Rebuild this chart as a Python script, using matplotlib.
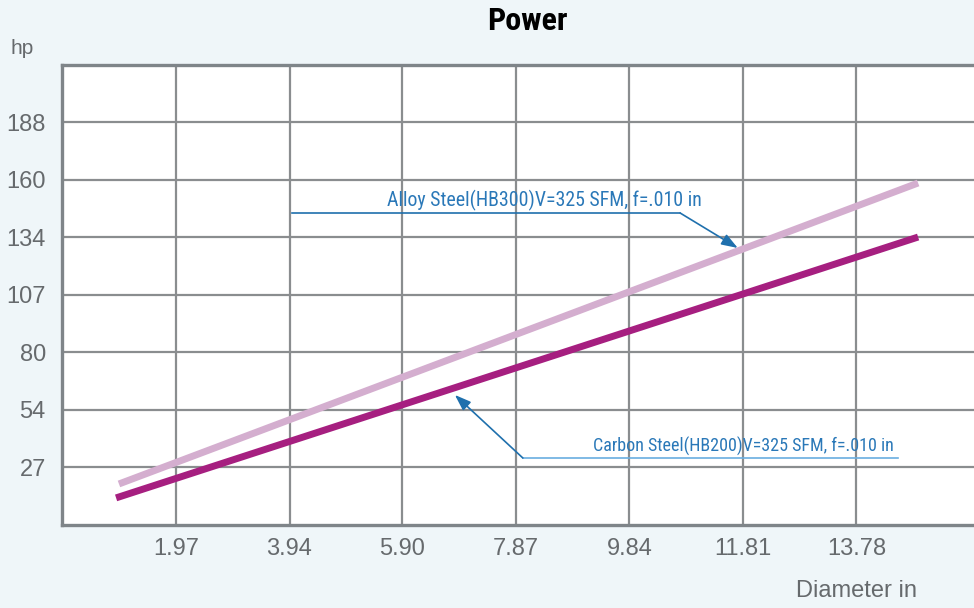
import matplotlib
matplotlib.use("Agg")
import matplotlib.pyplot as plt
from matplotlib import font_manager as fm

# ---- data ----
x_ticks = [1.97, 3.94, 5.90, 7.87, 9.84, 11.81, 13.78]
x_tick_labels = ["1.97", "3.94", "5.90", "7.87", "9.84", "11.81", "13.78"]
y_ticks = [26.8, 53.6, 80.4, 107.2, 134.0, 160.8, 187.6]
y_tick_labels = ["27", "54", "80", "107", "134", "160", "188"]

alloy_x = [0.98, 14.85]
alloy_y = [18.9, 159.2]
carbon_x = [0.93, 14.85]
carbon_y = [12.4, 134.0]

alloy_label = "Alloy Steel(HB300)V=325 SFM, f=.010 in"
carbon_label = "Carbon Steel(HB200)V=325 SFM, f=.010 in"

BG = "#eff6f9"
GRID = "#8a8d8f"
SPINE = "#7f8589"
TICK = "#666a6d"
ANN = "#2a78b8"


def find_font(want_bold):
    cands = []
    for f in fm.fontManager.ttflist:
        nm = f.name.lower()
        st = str(f.stretch).lower()
        cond = ("narrow" in nm or "condensed" in nm or "condensed" in st
                or "narrow" in f.fname.lower() or "condensed" in f.fname.lower())
        if not cond:
            continue
        w = f.weight if isinstance(f.weight, int) else (700 if "bold" in str(f.weight) else 400)
        if want_bold and w < 600:
            continue
        if not want_bold and w >= 600:
            continue
        if f.style != "normal":
            continue
        pri = 5
        if "liberation" in nm:
            pri = 0
        elif "roboto" in nm:
            pri = 1
        elif "open sans" in nm:
            pri = 2
        elif "dejavu" in nm:
            pri = 3
        cands.append((pri, f.fname))
    cands.sort()
    if cands:
        return fm.FontProperties(fname=cands[0][1])
    return None


fp_reg = find_font(False)
fp_bold = find_font(True)
sans = ["Liberation Sans", "DejaVu Sans"]

fig = plt.figure(figsize=(9.74, 6.08), dpi=100, facecolor=BG)
ax = fig.add_axes([62.5 / 974, 1 - 524.5 / 608, 1 - 62.5 / 974, (524.5 - 65) / 608])
ax.set_facecolor("white")
ax.set_xlim(0, 15.82)
ax.set_ylim(0, 214.2)

ax.set_xticks(x_ticks)
ax.set_xticklabels(x_tick_labels, family=sans, fontsize=17, color=TICK)
ax.set_yticks(y_ticks)
ax.set_yticklabels(y_tick_labels, family=sans, fontsize=17, color=TICK)
ax.tick_params(length=0, pad=10)
ax.tick_params(axis="y", pad=12)
ax.grid(True, color=GRID, linewidth=1.6)
ax.set_axisbelow(True)

for s in ["left", "top", "bottom"]:
    ax.spines[s].set_color(SPINE)
    ax.spines[s].set_linewidth(2.4)
ax.spines["right"].set_visible(False)

ax.plot(alloy_x, alloy_y, color="#d4aecf", linewidth=5, solid_capstyle="butt", zorder=3)
ax.plot(carbon_x, carbon_y, color="#a61f80", linewidth=5, solid_capstyle="butt", zorder=3)


def ann_text(x, y, s, size):
    if fp_reg is not None:
        fp = fp_reg.copy()
        fp.set_size(size)
        ax.text(x, y, s, fontproperties=fp, color=ANN, ha="left", va="baseline", zorder=4)
    else:
        ax.text(x, y, s, family="DejaVu Sans", fontsize=size * 0.83, color=ANN,
                ha="left", va="baseline", zorder=4)


arrow_kw = dict(arrowstyle="-|>,head_length=0.7,head_width=0.25", color="#1f70ad", lw=1.2,
                mutation_scale=14, shrinkA=0, shrinkB=0)

# alloy annotation
ax.plot([3.98, 10.72], [145.2, 145.2], color="#1f70ad", linewidth=1.2, zorder=4)
ax.annotate("", xy=(11.72, 128.9), xytext=(10.72, 145.2), arrowprops=arrow_kw, zorder=4)
ann_text(5.63, 148.3, alloy_label, 14.3)

# carbon annotation
ax.plot([7.99, 14.50], [31.0, 31.0], color="#6aaee0", linewidth=1.2, zorder=4)
ax.annotate("", xy=(6.81, 60.4), xytext=(7.99, 31.0), arrowprops=arrow_kw, zorder=4)
ann_text(9.20, 34.0, carbon_label, 13.0)

if fp_bold is not None:
    fpt = fp_bold.copy()
    fpt.set_size(23)
    fig.text(527 / 974, 1 - 21 / 608, "Power", fontproperties=fpt,
             color="black", ha="center", va="center")
else:
    fig.text(527 / 974, 1 - 21 / 608, "Power", family="DejaVu Sans", fontweight="bold",
             fontsize=19, color="black", ha="center", va="center")
fig.text(22 / 974, 1 - 48 / 608, "hp", family=sans, fontsize=15, color=TICK,
         ha="center", va="center")
fig.text(917 / 974, 1 - 591 / 608, "Diameter in", family=sans, fontsize=17,
         color=TICK, ha="right", va="center")

fig.savefig("out.png", dpi=100, facecolor=BG)
